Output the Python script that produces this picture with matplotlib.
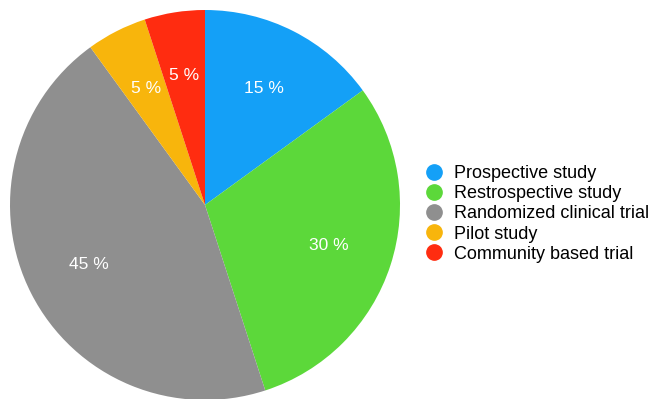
import matplotlib.pyplot as plt
from matplotlib.lines import Line2D

plt.rcParams['font.family'] = ['Liberation Sans', 'DejaVu Sans']

# Data
labels = ['Prospective study', 'Restrospective study', 'Randomized clinical trial',
          'Pilot study', 'Community based trial']
shares = [15, 30, 45, 5, 5]
colors = ['#14A0F7', '#5CD83A', '#8F8F8F', '#F8B50C', '#FF2C10']

fig = plt.figure(figsize=(6.52, 3.99), dpi=100)
ax = fig.add_axes([10 / 652, -1 / 399, 390 / 652, 390 / 399])

ax.pie(shares, colors=colors, startangle=90, counterclock=False,
       autopct=lambda p: '%d %%' % round(p), pctdistance=0.67,
       textprops={'color': 'white', 'fontsize': 12.5})
ax.set_xlim(-1, 1)
ax.set_ylim(-1, 1)
ax.set_aspect('equal')

handles = [Line2D([], [], marker='o', linestyle='', markersize=11,
                  markerfacecolor=c, markeredgecolor=c) for c in colors]
fig.legend(handles, labels, loc='center left', bbox_to_anchor=(426 / 652, 1 - 214 / 399),
           frameon=False, fontsize=13, handletextpad=0.65, labelspacing=0.17,
           handlelength=0.9, borderaxespad=0, borderpad=0)

fig.savefig('out.png', dpi=100)
